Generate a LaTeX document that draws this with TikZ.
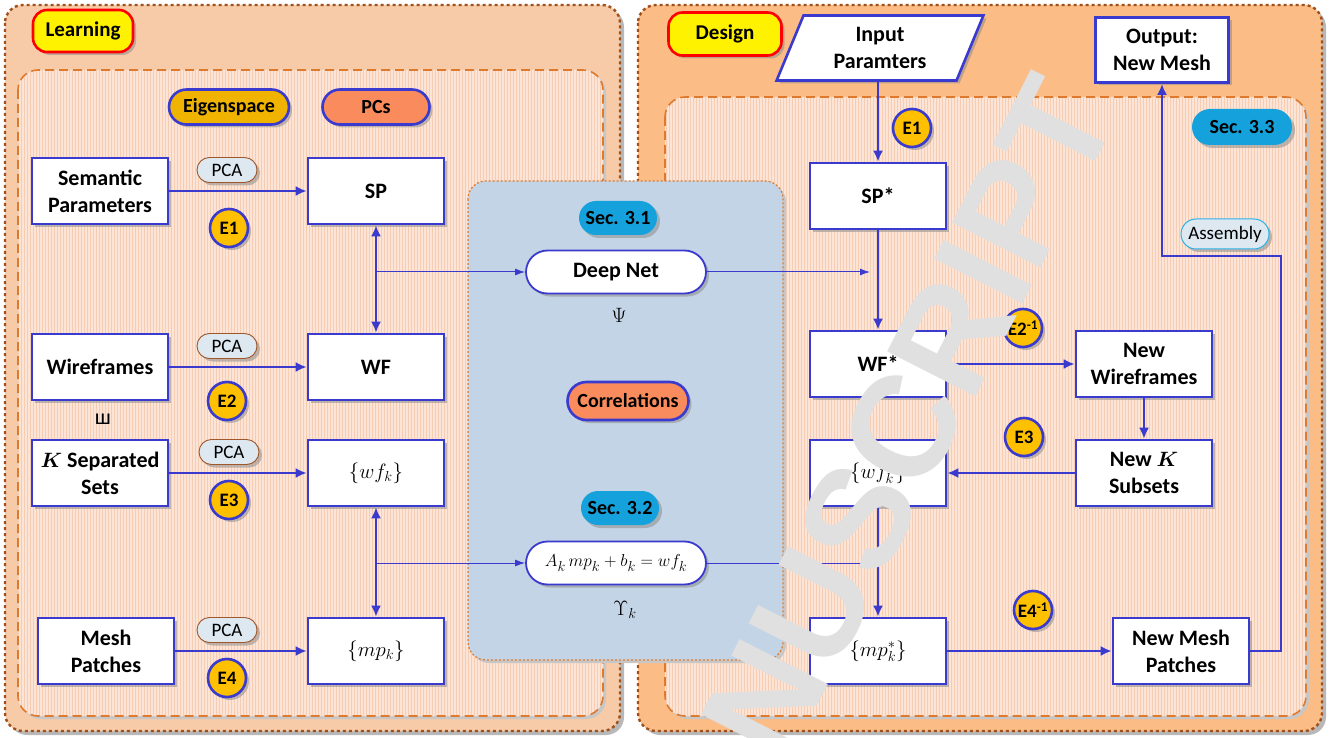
\documentclass[tikz,border=0pt]{standalone}
\usepackage{fontspec}
\setmainfont{Carlito}
\newfontfamily\wmfont{Liberation Sans}
\usetikzlibrary{shapes.geometric,shapes.misc,arrows.meta,shadows,patterns}
\definecolor{bl}{HTML}{3A3ACF}
\definecolor{lorange}{HTML}{F8CBA8}
\definecolor{rorange}{HTML}{FCBC85}
\definecolor{peach}{HTML}{FCE4D6}
\definecolor{stripe}{HTML}{F6CDB3}
\definecolor{brownd}{HTML}{A0501A}
\definecolor{orangeb}{HTML}{DE7A2E}
\definecolor{bluep}{HTML}{C3D4E6}
\definecolor{gold}{HTML}{FFC000}
\definecolor{eigc}{HTML}{EFB300}
\definecolor{coral}{HTML}{F98B5C}
\definecolor{secb}{HTML}{15A2DC}
\definecolor{pcaf}{HTML}{DDE8F1}
\definecolor{pcab}{HTML}{A0582A}
\definecolor{asmb}{HTML}{2DB2E8}
\tikzset{
  shd/.style={drop shadow={shadow xshift=3pt,shadow yshift=-3pt,fill=black!45,opacity=.55}},
  box/.style={draw=bl, line width=2.6pt, fill=white, minimum width=136pt, minimum height=66pt,
    align=center, inner sep=2pt, font=\bfseries\fontsize{22}{27}\selectfont, shd},
  mbox/.style={box, font=\fontsize{22}{27}\selectfont},
  pca/.style={rounded rectangle, draw=pcab, fill=pcaf, line width=0.9pt, minimum width=62pt,
    minimum height=25pt, inner sep=1pt, font=\fontsize{19}{20}\selectfont, shd},
  ecirc/.style={circle, draw=bl, fill=gold, line width=2.6pt, minimum size=38pt, inner sep=0pt,
    font=\bfseries\fontsize{19}{20}\selectfont, shd},
  tagb/.style={rounded rectangle, draw=bl, line width=2.6pt, minimum height=35pt, inner sep=2pt,
    font=\bfseries\fontsize{20}{22}\selectfont, shd},
  secp/.style={rounded rectangle, fill=secb, minimum width=82pt, minimum height=34pt, inner sep=2pt,
    font=\bfseries\fontsize{20}{22}\selectfont, shd},
  phase/.style={rectangle, rounded corners=14pt, draw=red, fill=yellow, line width=2.6pt,
    minimum height=42pt, font=\bfseries\fontsize{21}{22}\selectfont, shd},
  rbox/.style={rounded rectangle, draw=bl, fill=white, line width=1.8pt, minimum width=184pt,
    minimum height=43pt, inner sep=2pt, shd},
  arr/.style={draw=bl, line width=2.4pt, -{Latex[length=11pt,width=10pt]}},
  darr/.style={draw=bl, line width=2.4pt, {Latex[length=11pt,width=10pt]}-{Latex[length=11pt,width=10pt]}},
  thn/.style={draw=bl, line width=1pt, -{Latex[length=10pt,width=7pt]}},
}
\begin{document}
\begin{tikzpicture}[x=1pt,y=-1pt]
\useasboundingbox (0,0) rectangle (1331,738);
% ---------- panels ----------
% left outer
\fill[black!28, rounded corners=18pt] (9,9) rectangle (624,735);
\fill[lorange, rounded corners=18pt] (5,5) rectangle (620,731);
\draw[brownd, line width=2.4pt, dash pattern=on 3pt off 3pt, rounded corners=18pt] (5,5) rectangle (620,731);
% right outer
\fill[black!28, rounded corners=18pt] (642,9) rectangle (1326,735);
\fill[rorange, rounded corners=18pt] (638,5) rectangle (1322,731);
\draw[brownd, line width=2.4pt, dash pattern=on 3pt off 3pt, rounded corners=18pt] (638,5) rectangle (1322,731);
% left inner
\fill[black!22, rounded corners=20pt] (21,73) rectangle (606,719);
\fill[peach, rounded corners=20pt] (18,70) rectangle (603,716);
\fill[pattern=vertical lines, pattern color=stripe, rounded corners=20pt] (18,70) rectangle (603,716);
\draw[orangeb, line width=1.6pt, dash pattern=on 9pt off 5pt, rounded corners=20pt] (18,70) rectangle (603,716);
% right inner
\fill[black!22, rounded corners=20pt] (668,100) rectangle (1309,719);
\fill[peach, rounded corners=20pt] (665,97) rectangle (1306,716);
\fill[pattern=vertical lines, pattern color=stripe, rounded corners=20pt] (665,97) rectangle (1306,716);
\draw[orangeb, line width=1.6pt, dash pattern=on 9pt off 5pt, rounded corners=20pt] (665,97) rectangle (1306,716);
% blue middle
\fill[black!22, rounded corners=18pt] (471,184) rectangle (786,663);
\fill[bluep, rounded corners=18pt] (468,181) rectangle (783,660);
\draw[orangeb, line width=1.2pt, dash pattern=on 2pt off 2pt, rounded corners=18pt] (468,181) rectangle (783,660);

% ---------- Learning ----------
\node[phase, minimum width=100pt] (learn) at (83,31) {Learning};
\node[tagb, fill=eigc, minimum width=124pt] (eig) at (229,107) {Eigenspace};
\node[tagb, fill=coral, minimum width=111pt] (pcs) at (376,107) {PCs};

\node[box] (sem) at (100,191) {Semantic\\Parameters};
\node[box] (sp) at (376,191) {SP};
\node[pca] (pca1) at (227,170) {PCA};
\node[ecirc] (e1) at (229,228) {E1};

\node[box] (wfr) at (100,367) {Wireframes};
\node[box] (wf) at (376,367) {WF};
\node[pca] (pca2) at (227,346) {PCA};
\node[ecirc] (e2) at (227,401) {E2};
\node[font=\fontsize{22}{22}\selectfont] (uni) at (103,419) {ш};

\node[box] (ks) at (100,473) {{\boldmath$K$} Separated\\Sets};
\node[mbox] (wfk) at (376,473) {$\{wf_k\}$};
\node[pca] (pca3) at (229,452) {PCA};
\node[ecirc] (e3) at (229,500) {E3};

\node[box] (mesh) at (106,651) {Mesh\\Patches};
\node[mbox] (mpk) at (376,651) {$\{mp_k\}$};
\node[pca] (pca4) at (227,630) {PCA};
\node[ecirc] (e4) at (227,678) {E4};

\draw[arr] (sem) -- (sp);
\draw[arr] (wfr) -- (wf);
\draw[arr] (ks) -- (wfk);
\draw[arr] (mesh.east) -- (mpk.west |- mesh.east);
\draw[darr] (sp) -- (wf);
\draw[darr] (wfk) -- (mpk);

% ---------- middle ----------
\node[secp] (sec1) at (618,218) {Sec. 3.1};
\node[rbox, font=\bfseries\fontsize{22}{24}\selectfont] (dn) at (616,272) {Deep Net};
\node[font=\fontsize{21}{22}\selectfont] (psi) at (619,315) {$\Psi$};
\node[tagb, fill=coral, minimum width=125pt, minimum height=38pt] (corr) at (628,401) {Correlations};
\node[secp] (sec2) at (620,508) {Sec. 3.2};
\node[rbox, font=\fontsize{19}{22}\selectfont] (eq) at (616,563) {$A_k\,mp_k + b_k = wf_k$};
\node[font=\fontsize{21}{22}\selectfont] (ups) at (625,610) {$\Upsilon_k$};

\coordinate (j1) at (376,272);
\coordinate (j2) at (376,563);
\coordinate (dnend) at (870,272);
\coordinate (eqend) at (872,563);
\draw[thn] (j1) -- (dn.west);
\draw[thn] (j2) -- (eq.west);
\draw[thn] (dn.east) -- (dnend);
\draw[thn] (eq.east) -- (eqend);

% ---------- Design ----------
\node[phase, minimum width=113pt, minimum height=43pt] (design) at (725,34) {Design};
\node[trapezium, trapezium left angle=69, trapezium right angle=111, trapezium stretches=true,
  draw=bl, fill=white, line width=2.6pt, minimum width=207pt, minimum height=65pt, inner sep=1pt,
  align=center, font=\bfseries\fontsize{22}{27}\selectfont, shd] (inp) at (880,48) {Input\\Paramters};
\node[box, minimum width=133pt, minimum height=65pt] (out) at (1162,50) {Output:\\New Mesh};
\node[secp, minimum width=104pt, minimum height=36pt] (sec3) at (1242,127) {Sec. 3.3};

\node[box] (sp2) at (878,196) {SP*};
\node[ecirc] (e1r) at (912,128) {E1};
\node[box] (wf2) at (878,364) {WF*};
\node[ecirc] (e2r) at (1023,328) {E2\textsuperscript{-1}};
\node[box] (nwf) at (1144,364) {New\\Wireframes};
\node[box] (nks) at (1144,473) {New {\boldmath$K$}\\Subsets};
\node[ecirc] (e3r) at (1024,437) {E3};
\node[mbox] (wfk2) at (878,473) {$\{wf_k^*\}$};
\node[mbox] (mpk2) at (878,651) {$\{mp_k^*\}$};
\node[ecirc] (e4r) at (1033,610) {E4\textsuperscript{-1}};
\node[box] (nmp) at (1181,651) {New Mesh\\Patches};
\node[rounded rectangle, draw=asmb, fill=pcaf, line width=1pt, minimum width=90pt, minimum height=30pt,
  inner sep=1pt, font=\fontsize{19}{20}\selectfont, shd] (asm) at (1225,234) {Assembly};

\draw[arr] (sp2.north |- inp.south) -- (sp2.north);
\draw[arr] (sp2) -- (wf2);
\draw[arr] (wf2) -- (nwf);
\draw[arr] (nwf) -- (nks);
\draw[arr] (nks) -- (wfk2);
\draw[arr] (wfk2) -- (mpk2);
\draw[arr] (mpk2) -- (nmp);
\coordinate (c1) at (1281,256);
\draw[arr] (nmp.east) -| (c1) -| (out.south);

% ---------- watermark ----------
\node[rotate=63, text=black!12, font=\wmfont\bfseries\fontsize{144}{144}\selectfont] (wm) at (858,518) {MANUSCRIPT};
\end{tikzpicture}
\end{document}
